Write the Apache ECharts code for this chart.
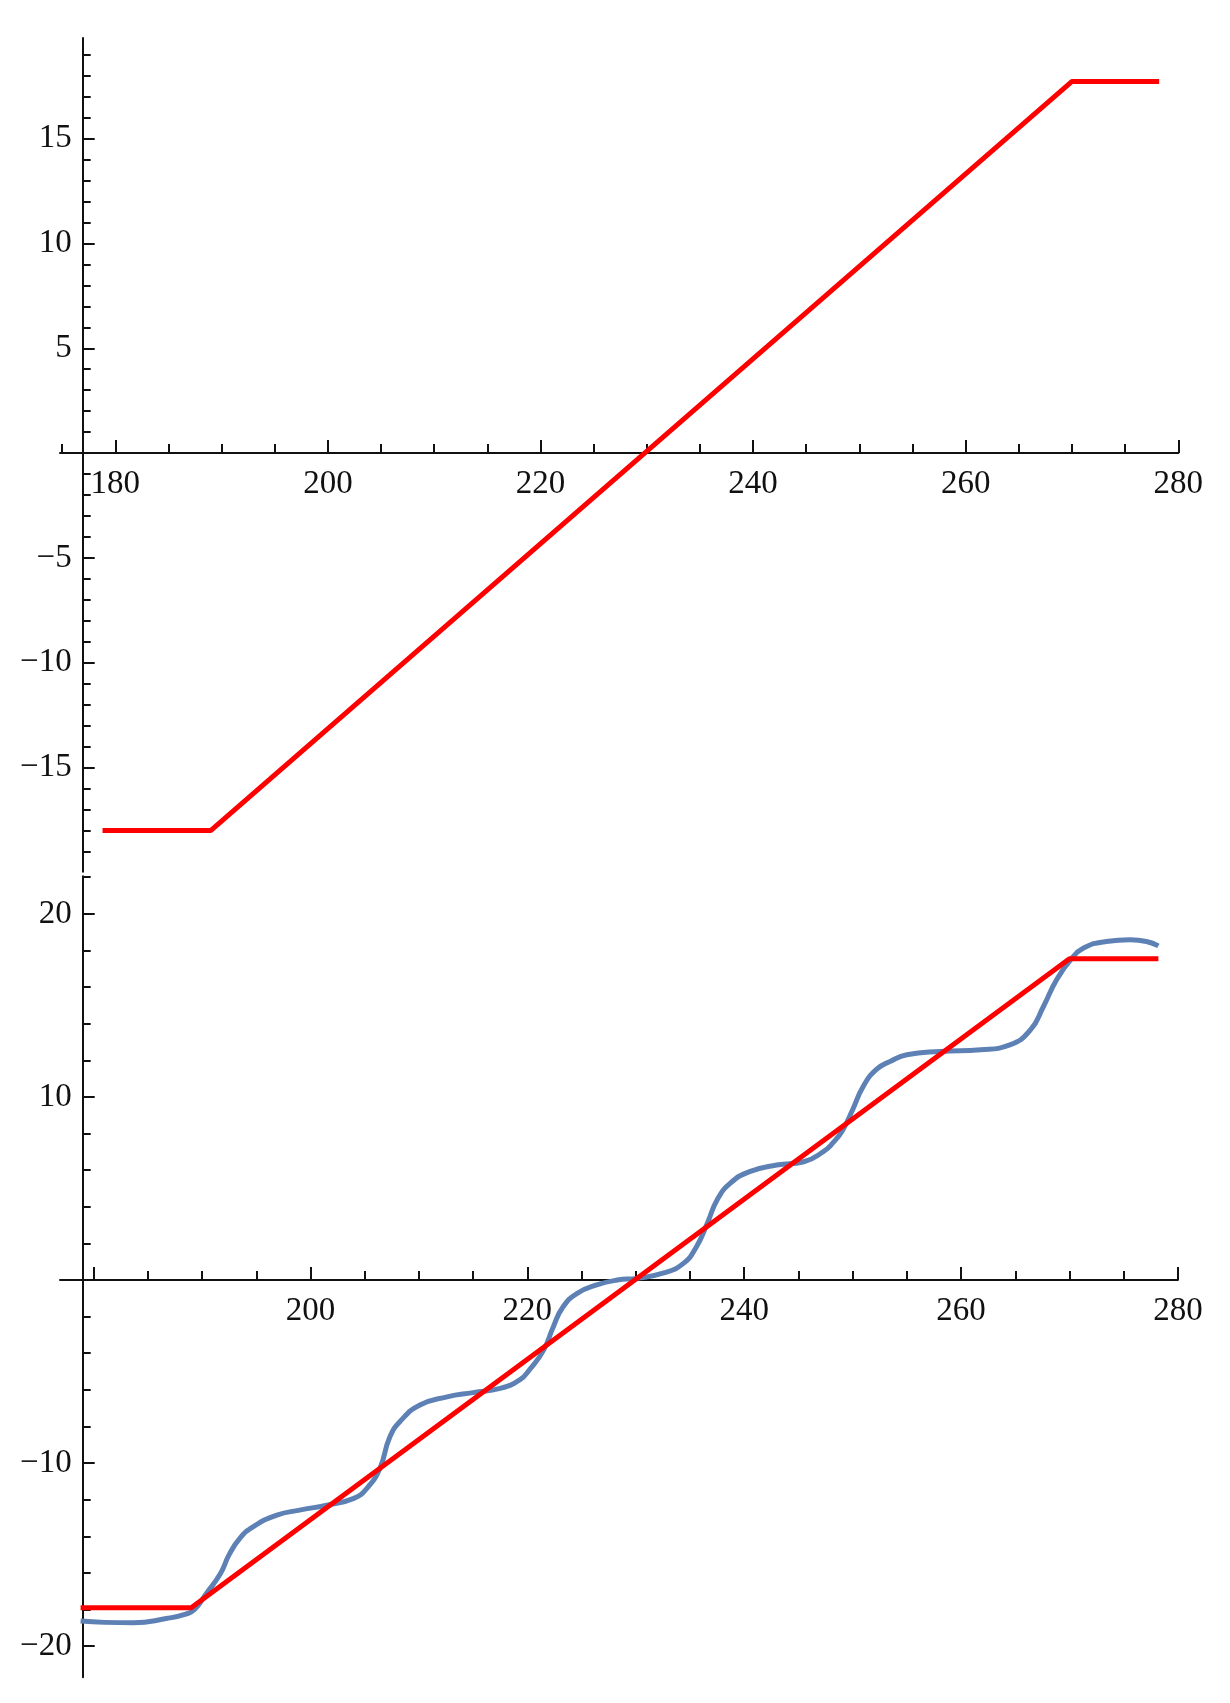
<!DOCTYPE html>
<html>
<head>
<meta charset="utf-8">
<script src="https://cdn.jsdelivr.net/npm/echarts@6/dist/echarts.min.js"></script>
<style>
html,body{margin:0;padding:0;background:#fff;}
#main{width:1230px;height:1703px;}
</style>
</head>
<body>
<div id="main"></div>
<script>
// ---- data ----
const redX = [178.8, 189.0, 270.0, 278.2];
const redTopY = [-18.0, -18.0, 17.73, 17.73];
const redBottomY = [-17.9, -17.9, 17.55, 17.55];

const blueX = [178.8, 181.0, 183.7, 186.7, 188.5, 189.3, 190.4, 191.7, 192.5, 193.5, 194.7, 196.9, 199.0,
  201.5, 204.0, 205.2, 206.4, 207.3, 208.3, 210.1, 212.6, 215.0, 217.5, 219.3, 220.2, 221.5, 222.4,
  223.3, 224.6, 226.4, 228.3, 230.1, 232.5, 234.4, 235.6, 236.6, 237.5, 238.7, 240.5, 243.0, 245.5,
  247.3, 248.2, 249.1, 250.0, 251.0, 252.2, 253.5, 255.0, 258.1, 261.8, 264.5, 266.4, 267.6, 268.8,
  270.1, 271.3, 273.4, 275.6, 277.1, 278.2];
const blueY = [-18.63, -18.70, -18.72, -18.49, -18.25, -18.0, -17.12, -16.03, -15.0, -14.1, -13.48, -12.84, -12.57,
  -12.30, -11.93, -11.38, -10.29, -8.6, -7.7, -6.83, -6.38, -6.15, -5.92, -5.46, -4.9, -3.83, -2.55,
  -1.46, -0.73, -0.27, 0.0, 0.09, 0.37, 0.91, 1.82, 3.10, 4.37, 5.28, 5.92, 6.28, 6.46,
  7.01, 7.5, 8.2, 9.3, 10.6, 11.5, 11.95, 12.30, 12.48, 12.57, 12.84, 13.66, 14.94, 16.39,
  17.49, 18.13, 18.49, 18.58, 18.49, 18.25];

const topXLabels = [180, 200, 220, 240, 260, 280];
const bottomXLabels = [200, 220, 240, 260, 280];
const topXTicks = [180, 200, 220, 240, 260, 280];
const bottomXTicks = [180, 200, 220, 240, 260, 280];
const topYLabels = [-15, -10, -5, 5, 10, 15];
const topYTicks = [-15, -10, -5, 0, 5, 10, 15];
const bottomYLabels = [-20, -10, 10, 20];
const bottomYTicks = [-20, -10, 0, 10, 20];

// ---- chart ----
const pairs = (xs, ys) => xs.map((x, i) => [x, ys[i]]);
const fmt = v => String(v).replace('-', '\u2212');
const font = 'Liberation Serif';
const black = '#111';

const G = [
  { top: 38, height: 833.7, yMin: -19.97, yMax: 19.8 },
  { top: 876.3, height: 801, yMin: -21.7, yMax: 22.05 }
];
// shift the x axis from the grid bottom to the y = 0 level
const zeroShift = g => -(g.height * (0 - g.yMin) / (g.yMax - g.yMin));

function xAxisDef(grid, min, labels, ticks) {
  return {
    type: 'value', gridIndex: grid, min: min, max: 280, splitNumber: 5,
    position: 'bottom', offset: zeroShift(G[grid]),
    axisLine: { show: true, onZero: false, lineStyle: { color: black, width: 2 } },
    axisTick: { show: true, inside: true, length: 13, customValues: ticks, lineStyle: { color: black, width: 2 } },
    minorTick: { show: true, splitNumber: 4, length: 9, lineStyle: { color: black, width: 2 } },
    axisLabel: { customValues: labels, formatter: fmt, margin: 15, color: black, fontFamily: font, fontSize: 33 },
    splitLine: { show: false }, minorSplitLine: { show: false }
  };
}
function yAxisDef(grid, split, minorSplit, labels, ticks) {
  return {
    type: 'value', gridIndex: grid, min: G[grid].yMin, max: G[grid].yMax, splitNumber: split,
    offset: -22.7,
    axisLine: { show: true, onZero: false, lineStyle: { color: black, width: 2 } },
    axisTick: { show: true, inside: true, length: 12, customValues: ticks, lineStyle: { color: black, width: 2 } },
    minorTick: { show: true, splitNumber: minorSplit, length: 8, lineStyle: { color: black, width: 2 } },
    axisLabel: { customValues: labels, formatter: fmt, margin: 11, color: black, fontFamily: font, fontSize: 33 },
    splitLine: { show: false }, minorSplitLine: { show: false }
  };
}

const chart = echarts.init(document.getElementById('main'), null, { renderer: 'canvas' });
chart.setOption({
  animation: false,
  backgroundColor: '#ffffff',
  grid: [
    { left: 60, right: 51.7, top: G[0].top, height: G[0].height },
    { left: 60, right: 52.1, top: G[1].top, height: G[1].height }
  ],
  xAxis: [
    xAxisDef(0, 174.8, topXLabels, topXTicks),
    xAxisDef(1, 176.9, bottomXLabels, bottomXTicks)
  ],
  yAxis: [
    yAxisDef(0, 8, 5, topYLabels, topYTicks),
    yAxisDef(1, 4, 5, bottomYLabels, bottomYTicks)
  ],
  series: [
    { type: 'line', xAxisIndex: 0, yAxisIndex: 0, data: pairs(redX, redTopY), showSymbol: false,
      lineStyle: { color: '#ff0000', width: 5 }, z: 3 },
    { type: 'line', xAxisIndex: 1, yAxisIndex: 1, data: pairs(blueX, blueY), showSymbol: false,
      smooth: 0.5, lineStyle: { color: '#5e81b5', width: 5 }, z: 2 },
    { type: 'line', xAxisIndex: 1, yAxisIndex: 1, data: pairs(redX, redBottomY), showSymbol: false,
      lineStyle: { color: '#ff0000', width: 5 }, z: 3 }
  ]
});
</script>
</body>
</html>
